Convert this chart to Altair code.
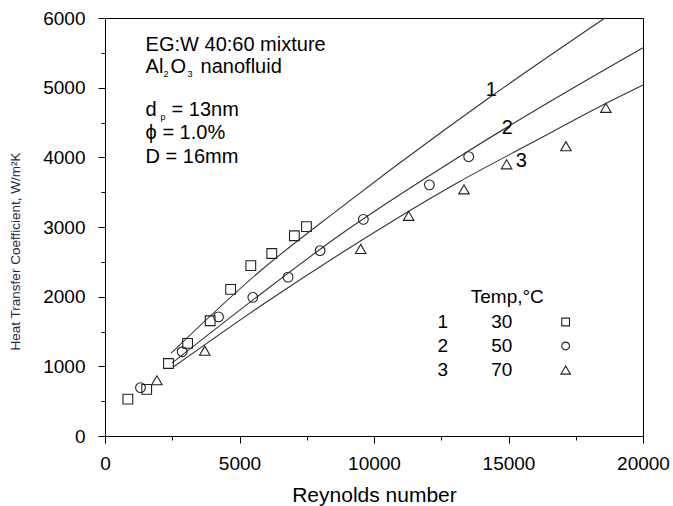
import altair as alt
import pandas as pd

# ---------------- data ----------------
sq_re = [850, 1550, 2360, 3070, 3910, 4670, 5420, 6200, 7040, 7490]
sq_h = [530, 670, 1040, 1330, 1655, 2105, 2445, 2620, 2875, 3005]

ci_re = [1320, 2870, 4220, 5495, 6805, 7995, 9605, 12060, 13520]
ci_h = [695, 1210, 1710, 1990, 2280, 2660, 3110, 3605, 4010]

tr_re = [1930, 3710, 9505, 11290, 13345, 14930, 17135, 18620]
tr_h = [800, 1225, 2685, 3160, 3540, 3900, 4160, 4710]

l1_re = [2460, 5740, 8730, 12615, 14165, 18585]
l1_h = [1190, 2358, 3268, 4392, 4823, 6000]
l2_re = [2500, 5740, 8730, 13170, 16640, 20000]
l2_h = [1050, 2024, 2885, 4009, 4823, 5574]
l3_re = [2540, 6115, 8730, 13170, 15775, 18870, 20000]
l3_h = [990, 1952, 2612, 3650, 4190, 4823, 5038]

x_ticks = [0, 2500, 5000, 7500, 10000, 12500, 15000, 17500, 20000]
y_ticks = [0, 500, 1000, 1500, 2000, 2500, 3000, 3500, 4000, 4500, 5000, 5500, 6000]

legend_ids = ["1", "2", "3"]
legend_temps = ["30", "50", "70"]

# ---------------- style ----------------
FONT = "Liberation Sans"
FS = 19
AFS = 20

X = alt.X(
    "x:Q",
    scale=alt.Scale(domain=[0, 20000], nice=False, zero=False),
    axis=alt.Axis(
        values=x_ticks,
        labelExpr="datum.value % 5000 == 0 ? format(datum.value, 'd') : ''",
        tickSize={"condition": {"test": "datum.value % 5000 == 0", "value": 7}, "value": 4},
        labelPadding=11,
        labelFlush=False,
        title="Reynolds number",
        titleFontSize=21,
        titlePadding=11,
    ),
)
Y = alt.Y(
    "y:Q",
    scale=alt.Scale(domain=[0, 6000], nice=False, zero=False),
    axis=alt.Axis(
        values=y_ticks,
        labelExpr="datum.value % 1000 == 0 ? format(datum.value, 'd') : ''",
        tickSize={"condition": {"test": "datum.value % 1000 == 0", "value": 7}, "value": 4},
        labelPadding=13,
        labelFlush=False,
        title="Heat Transfer Coefficient, W/m\u00b2K",
        titleFontSize=13.5,
        titleColor="#1b2747",
        titleX=-90,
        titleY=233,
        titleBaseline="middle",
        titleAlign="center",
    ),
)


def pts(xs, ys, shape, size):
    df = pd.DataFrame({"x": xs, "y": ys})
    return alt.Chart(df).mark_point(
        shape=shape, filled=False, color="#222222", strokeWidth=1.1, size=size, opacity=1
    ).encode(x=X, y=Y)


def line(xs, ys):
    df = pd.DataFrame({"x": xs, "y": ys})
    return alt.Chart(df).mark_line(
        interpolate="monotone", color="#333333", strokeWidth=1.1
    ).encode(x=X, y=Y)


def txt(x, y, s, size=AFS, dx=0, dy=0, align="left"):
    df = pd.DataFrame({"x": [x], "y": [y], "t": [s]})
    return alt.Chart(df).mark_text(
        align=align, baseline="middle", font=FONT, fontSize=size,
        color="black", dx=dx, dy=dy
    ).encode(x=X, y=Y, text="t:N")


layers = [
    line(l1_re, l1_h),
    line(l2_re, l2_h),
    line(l3_re, l3_h),
    pts(sq_re, sq_h, "square", 95),
    pts(ci_re, ci_h, "circle", 95),
    pts(tr_re, tr_h, "triangle-up", 110),
]

# annotations (data coordinates)
ax = 1510
layers += [
    txt(ax, 5612, "EG:W 40:60 mixture"),
    txt(ax, 5296, "Al"),
    txt(ax, 5296, "2", size=9, dx=18, dy=7),
    txt(ax, 5296, "O", dx=25),
    txt(ax, 5296, "3", size=9, dx=42, dy=7),
    txt(ax, 5296, "nanofluid", dx=55),
    txt(ax, 4679, "d"),
    txt(ax, 4679, "p", size=9, dx=15, dy=7),
    txt(ax, 4679, "= 13nm", dx=26),
    txt(ax, 4349, "\u03d5 = 1.0%"),
    txt(ax, 4005, "D = 16mm"),
    txt(14361, 4966, "1", align="center"),
    txt(14955, 4421, "2", align="center"),
    txt(15480, 3947, "3", align="center"),
    txt(14955, 1995, "Temp,\u00b0C", size=FS, align="center"),
]
row_y = [1636, 1292, 947]
for i in range(3):
    layers.append(txt(12556, row_y[i], legend_ids[i], size=FS, align="center"))
    layers.append(txt(14747, row_y[i], legend_temps[i], size=FS, align="center"))
layers.append(pts([17124], [row_y[0]], "square", 60))
layers.append(pts([17124], [row_y[1]], "circle", 60))
layers.append(pts([17124], [row_y[2]], "triangle-up", 90))

chart = (
    alt.layer(*layers)
    .properties(
        width=538,
        height=418,
        autosize="none",
        padding={"left": 105, "top": 18, "right": 30, "bottom": 70},
        background="white",
    )
    .configure_view(stroke="black", strokeWidth=1)
    .configure_axis(
        grid=False,
        domainColor="black",
        domainWidth=1,
        tickColor="black",
        tickWidth=1,
        labelFont=FONT,
        labelFontSize=FS,
        labelColor="black",
        titleFont=FONT,
        titleFontWeight="normal",
        titleColor="black",
    )
)

chart.save("out.html", embed_options={"renderer": "svg", "actions": False})
